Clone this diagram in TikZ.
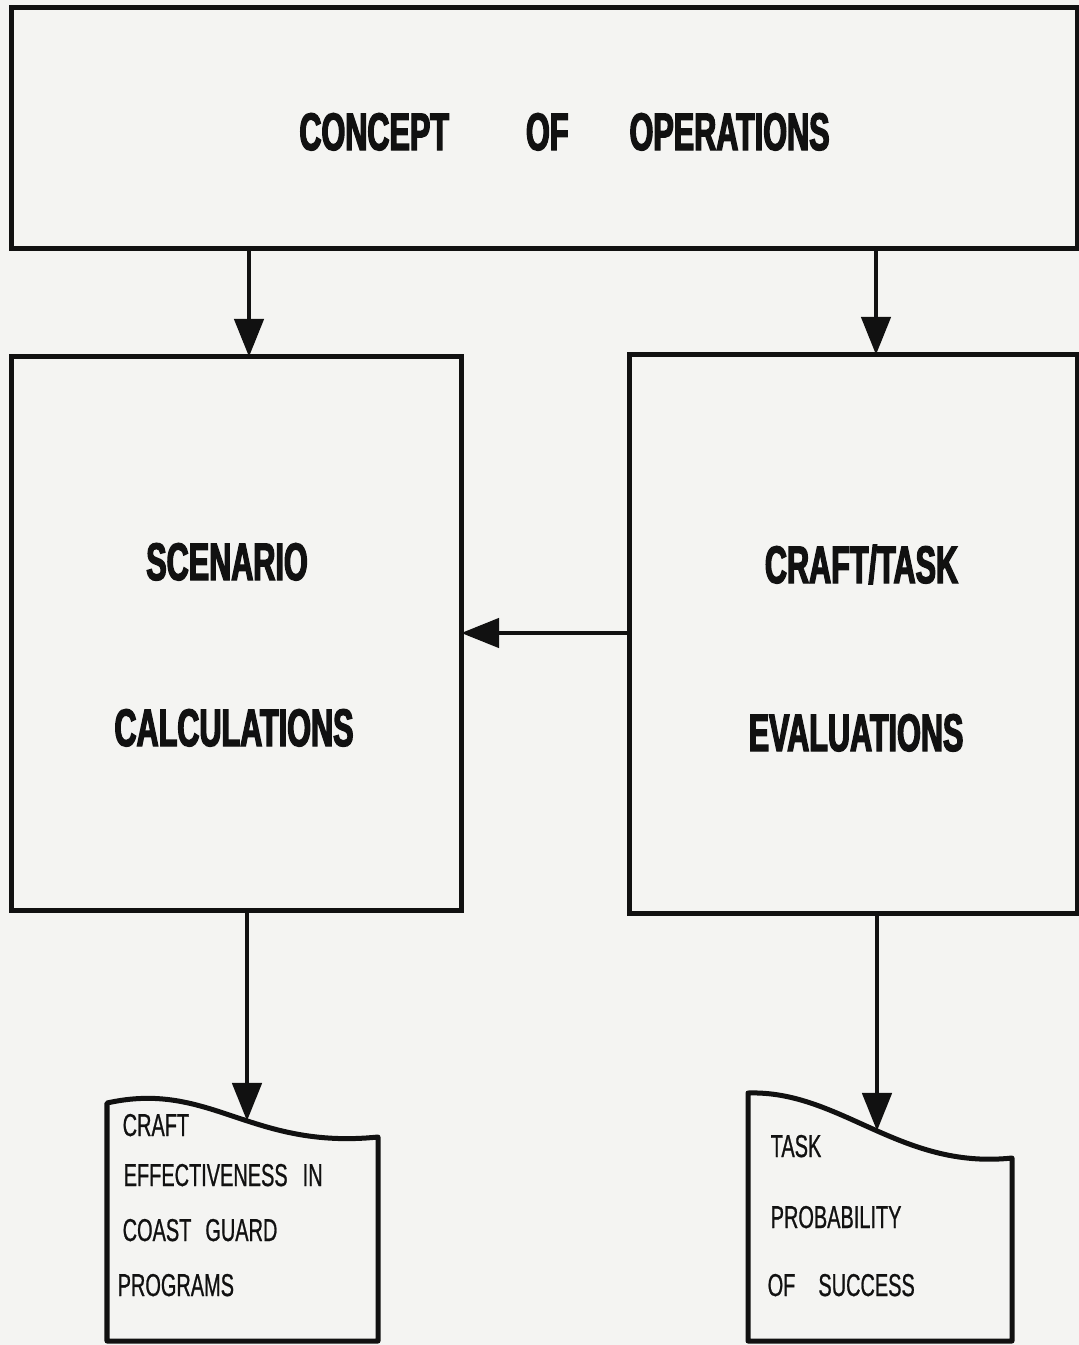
\documentclass[tikz,border=0pt]{standalone}
\usepackage{fontspec}
\setmainfont{Liberation Sans}
\newfontfamily\cfbig[FakeStretch=0.58,FakeBold=2.6]{Liberation Sans}
\newfontfamily\cfdoc[FakeStretch=0.63,FakeBold=0.7]{Liberation Sans}
\usetikzlibrary{arrows.meta}
\definecolor{paper}{RGB}{244,244,242}
\definecolor{ink}{RGB}{17,17,17}
\tikzset{
  box/.style={draw=ink, line width=0.05cm, fill=paper, inner sep=0pt, outer sep=0pt},
  bigtext/.style={font=\cfbig\bfseries\fontsize{15pt}{16pt}\selectfont, text=ink, inner sep=0pt, anchor=base},
  doctext/.style={font=\cfdoc\fontsize{9pt}{10pt}\selectfont, text=ink, inner sep=0pt, anchor=base west},
  docshape/.style={draw=ink, line width=0.05cm, fill=paper, line join=round},
  arr/.style={draw=ink, line width=0.048cm, -{Triangle[length=0.38cm,width=0.29cm]}}
}
\begin{document}
\begin{tikzpicture}[x=0.01cm,y=-0.01cm]
\fill[paper] (0,0) rectangle (1079,1345);
\useasboundingbox (0,0) rectangle (1079,1345);

% boxes
\node[box, minimum width=10.65cm, minimum height=2.40cm] (top) at (544.5,128) {};
\node[box, minimum width=4.49cm, minimum height=5.53cm] (scen) at (236.5,633.5) {};
\node[box, minimum width=4.47cm, minimum height=5.58cm] (craft) at (853.5,634) {};

% box texts
\node[bigtext] (tconcept) at (564.5,150) {CONCEPT\hspace{0.77cm}OF\hspace{0.61cm}OPERATIONS};
\node[bigtext] (tscen) at (227,580) {SCENARIO};
\node[bigtext] (tcalc) at (234,746) {CALCULATIONS};
\node[bigtext] (tcraft) at (861.5,583) {CRAFT/TASK};
\node[bigtext] (teval) at (856,751) {EVALUATIONS};

% documents
\draw[docshape] (107,1341) -- (107,1103) .. controls (210,1080) and (250,1150) .. (378,1137) -- (378,1341) -- cycle;
\draw[docshape] (748,1341) -- (748,1093) .. controls (840,1090) and (900,1170) .. (1012,1158) -- (1012,1341) -- cycle;
\coordinate (d1in) at (247,1121);
\coordinate (d2in) at (877,1131);

\node[doctext] (c1) at (122,1136) {CRAFT};
\node[doctext] (c2) at (123,1186) {EFFECTIVENESS\hspace{0.15cm}IN};
\node[doctext] (c3) at (122,1241) {COAST\hspace{0.14cm}GUARD};
\node[doctext] (c4) at (117,1296) {PROGRAMS};
\node[doctext] (p1) at (770,1157) {TASK};
\node[doctext] (p2) at (770,1228) {PROBABILITY};
\node[doctext] (p3) at (767,1296) {OF\hspace{0.23cm}SUCCESS};

% connectors
\coordinate (xa) at (249,300);
\coordinate (xb) at (876,300);
\coordinate (hy) at (545,633);
\draw[arr] (top.south -| xa) -- (scen.north -| xa);
\draw[arr] (top.south -| xb) -- (craft.north -| xb);
\draw[arr] (craft.west |- hy) -- (scen.east |- hy);
\draw[arr] (scen.south -| d1in) -- (d1in);
\draw[arr] (craft.south -| d2in) -- (d2in);
\end{tikzpicture}
\end{document}
